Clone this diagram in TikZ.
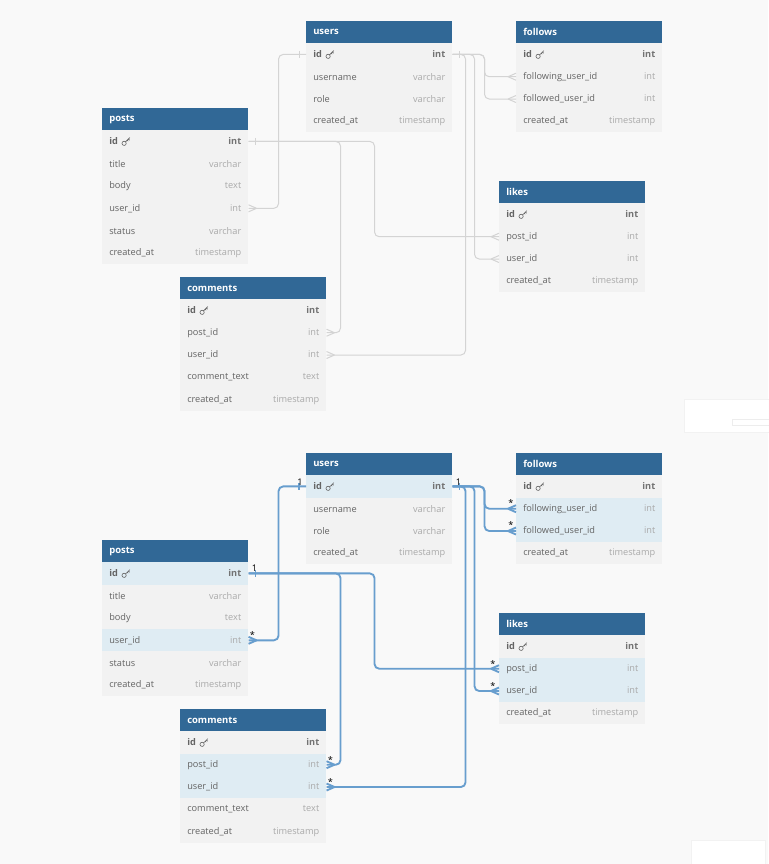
\documentclass[tikz,border=0pt]{standalone}
\usepackage{fontspec}
\setmainfont{Open Sans}
\usetikzlibrary{calc}

\definecolor{canvas}{RGB}{249,249,249}
\definecolor{headblue}{RGB}{49,104,150}
\definecolor{rowgray}{RGB}{242,242,242}
\definecolor{rowblue}{RGB}{223,236,243}
\definecolor{namegray}{RGB}{100,100,100}
\definecolor{typegray}{RGB}{170,170,170}
\definecolor{keytype}{RGB}{115,115,115}
\definecolor{linkgray}{RGB}{212,212,212}
\definecolor{linkblue}{RGB}{104,158,206}

\tikzset{
  tablehead/.style={fill=headblue, text=white, font=\fontsize{7.1}{8}\selectfont\bfseries,
    minimum width=109.5pt, minimum height=16.5pt, text width=99pt, inner xsep=5.25pt, inner ysep=0pt},
  plainrow/.style={fill=rowgray, text=namegray, font=\fontsize{6.9}{8}\selectfont,
    minimum width=109.5pt, minimum height=16.725pt, text width=99pt, inner xsep=5.25pt, inner ysep=0pt},
  linkrow/.style={plainrow, fill=rowblue},
  keyrow/.style={plainrow, font=\fontsize{6.9}{8}\selectfont\bfseries,
    execute at begin node={\colorlet{typegray}{keytype}}},
  keylinkrow/.style={keyrow, fill=rowblue},
  rel/.style={linkgray, line width=0.75pt, rounded corners=3.5pt},
  brel/.style={linkblue, line width=1.4pt, rounded corners=3.5pt},
  cardlabel/.style={font=\fontsize{6.9}{8}\selectfont, inner sep=0pt},
  crowfoot/.pic={\draw (-8,0) -- (0,-3.5) (-8,0) -- (0,3.5);},
  onetick/.pic={\draw (-7,-3.5) -- (-7,3.5);},
  keyicon/.pic={\draw[line width=0.45pt] (-1.9,1.9) circle[radius=1.6pt]
    (-0.7,0.7) -- (3.8,-3.8) (2.4,-2.4) -- (3.6,-1.2) (1.2,-1.2) -- (2.2,-0.2);}
}

% table: name, top left corner, title, rows (field/type/style)
\newcommand{\dbtable}[4]{%
  \node[tablehead, anchor=north west] (#1) at (#2) {#3};
  \foreach [count=\i] \fname/\ftype/\fstyle in {#4}
    \node[\fstyle, anchor=north west] (#1-\i) at ($(#2)+(0,{22+(\i-1)*22.3})$)
      {\fname\hfill\textcolor{typegray}{\ftype}};
  \pic[namegray] at ($(#1-1.west)+(24,0)$) {keyicon};
}

\begin{document}
\begin{tikzpicture}[x=0.75pt,y=-0.75pt]

\useasboundingbox (0,0) rectangle (768,864);
\fill[canvas] (0,0) rectangle (768,864);

% UI panels on the right edge
\filldraw[fill=white, draw=black!5] (684,399) rectangle (770,432);
\draw[black!7] (732,419) rectangle (770,425);
\filldraw[fill=white, draw=black!5] (691,840) rectangle (765,866);

%---------------- Top diagram: plain links ----------------
\dbtable{users}{306,21}{users}{id/int/keyrow, username/varchar/plainrow,
  role/varchar/plainrow, created\_at/timestamp/plainrow}
\dbtable{follows}{516,21}{follows}{id/int/keyrow, following\_user\_id/int/plainrow,
  followed\_user\_id/int/plainrow, created\_at/timestamp/plainrow}
\dbtable{posts}{102,108}{posts}{id/int/keyrow, title/varchar/plainrow, body/text/plainrow,
  user\_id/int/plainrow, status/varchar/plainrow, created\_at/timestamp/plainrow}
\dbtable{comments}{180,277}{comments}{id/int/keyrow, post\_id/int/plainrow, user\_id/int/plainrow,
  comment\_text/text/plainrow, created\_at/timestamp/plainrow}
\dbtable{likes}{499,181}{likes}{id/int/keyrow, post\_id/int/plainrow, user\_id/int/plainrow,
  created\_at/timestamp/plainrow}

% Links
\draw[rel] (posts-4.east) -- ++(30,0) |- (users-1.west);
\draw[rel] (users-1.east) -- ++(32,0) |- (follows-2.west);
\draw[rel] (users-1.east) -- ++(32,0) |- (follows-3.west);
\draw[rel] (users-1.east) -- ++(22,0) |- (likes-3.west);
\draw[rel] (users-1.east) -- ++(13,0) |- (comments-3.east);
\draw[rel] (posts-1.east) -- ++(92,0) |- (comments-2.east);
\draw[rel] (posts-1.east) -- ++(126,0) |- (likes-2.west);

% Link ends
\pic[rel] at (users-1.west) {onetick};
\pic[rel, xscale=-1] at (users-1.east) {onetick};
\pic[rel, xscale=-1] at (posts-1.east) {onetick};
\pic[rel, xscale=-1] at (posts-4.east) {crowfoot};
\pic[rel] at (follows-2.west) {crowfoot};
\pic[rel] at (follows-3.west) {crowfoot};
\pic[rel] at (likes-2.west) {crowfoot};
\pic[rel] at (likes-3.west) {crowfoot};
\pic[rel, xscale=-1] at (comments-2.east) {crowfoot};
\pic[rel, xscale=-1] at (comments-3.east) {crowfoot};

%---------------- Bottom diagram: highlighted links ----------------
\dbtable{busers}{306,453}{users}{id/int/keylinkrow, username/varchar/plainrow,
  role/varchar/plainrow, created\_at/timestamp/plainrow}
\dbtable{bfollows}{516,453}{follows}{id/int/keyrow, following\_user\_id/int/linkrow,
  followed\_user\_id/int/linkrow, created\_at/timestamp/plainrow}
\dbtable{bposts}{102,540}{posts}{id/int/keylinkrow, title/varchar/plainrow, body/text/plainrow,
  user\_id/int/linkrow, status/varchar/plainrow, created\_at/timestamp/plainrow}
\dbtable{bcomments}{180,709}{comments}{id/int/keyrow, post\_id/int/linkrow, user\_id/int/linkrow,
  comment\_text/text/plainrow, created\_at/timestamp/plainrow}
\dbtable{blikes}{499,613}{likes}{id/int/keyrow, post\_id/int/linkrow, user\_id/int/linkrow,
  created\_at/timestamp/plainrow}

% Links
\draw[brel] (bposts-4.east) -- ++(30,0) |- (busers-1.west);
\draw[brel] (busers-1.east) -- ++(32,0) |- (bfollows-2.west);
\draw[brel] (busers-1.east) -- ++(32,0) |- (bfollows-3.west);
\draw[brel] (busers-1.east) -- ++(22,0) |- (blikes-3.west);
\draw[brel] (busers-1.east) -- ++(13,0) |- (bcomments-3.east);
\draw[brel] (bposts-1.east) -- ++(92,0) |- (bcomments-2.east);
\draw[brel] (bposts-1.east) -- ++(126,0) |- (blikes-2.west);

% Link ends
\pic[brel] at (busers-1.west) {onetick};
\pic[brel, xscale=-1] at (busers-1.east) {onetick};
\pic[brel, xscale=-1] at (bposts-1.east) {onetick};
\pic[brel, xscale=-1] at (bposts-4.east) {crowfoot};
\pic[brel] at (bfollows-2.west) {crowfoot};
\pic[brel] at (bfollows-3.west) {crowfoot};
\pic[brel] at (blikes-2.west) {crowfoot};
\pic[brel] at (blikes-3.west) {crowfoot};
\pic[brel, xscale=-1] at (bcomments-2.east) {crowfoot};
\pic[brel, xscale=-1] at (bcomments-3.east) {crowfoot};

% Cardinality labels
\node[cardlabel, anchor=south west] (one-ul) at ($(busers-1.west)+(-9,-1)$) {1};
\node[cardlabel, anchor=south west] (one-ur) at ($(busers-1.east)+(3,-1)$) {1};
\node[cardlabel, anchor=south west] (one-p) at ($(bposts-1.east)+(3,-2)$) {1};
\node[cardlabel] (many-f1) at ($(bfollows-2.west)+(-5,-6)$) {*};
\node[cardlabel] (many-f2) at ($(bfollows-3.west)+(-5,-6)$) {*};
\node[cardlabel] (many-p) at ($(bposts-4.east)+(4,-5)$) {*};
\node[cardlabel] (many-c1) at ($(bcomments-2.east)+(4,-5)$) {*};
\node[cardlabel] (many-c2) at ($(bcomments-3.east)+(4,-5)$) {*};
\node[cardlabel] (many-l1) at ($(blikes-2.west)+(-6,-5)$) {*};
\node[cardlabel] (many-l2) at ($(blikes-3.west)+(-6,-5)$) {*};

\end{tikzpicture}
\end{document}
